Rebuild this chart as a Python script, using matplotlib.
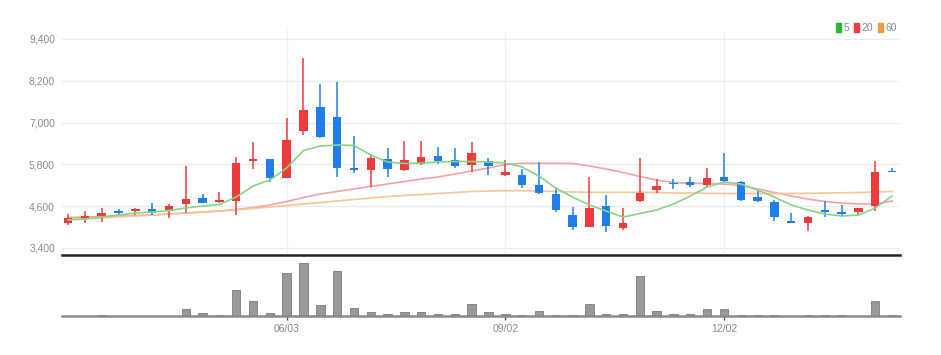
import numpy as np
import pandas as pd
import matplotlib
matplotlib.use("Agg")
import matplotlib.pyplot as plt
from matplotlib.patches import Patch

plt.rcParams['font.family'] = ['Liberation Sans Narrow', 'Liberation Sans', 'DejaVu Sans']

# weekly candles
dates = pd.date_range("2024-03-04", periods=50, freq="7D")
opens = [4109, 4261, 4318, 4462, 4462, 4528, 4462, 4654, 4835, 4720,
         4758, 5897, 5946, 5418, 6759, 7456, 7169, 5688, 5639, 5946,
         5639, 5811, 6050, 5926, 5783, 5906, 5496, 5496, 5209, 4950,
         4347, 4012, 4605, 3965, 4749, 5065, 5276, 5303, 5209, 5447,
         5303, 4873, 4729, 4175, 4109, 4491, 4443, 4443, 4605, 5620]
highs = [4376, 4471, 4557, 4511, 4557, 4683, 4663, 5754, 4950, 4999,
         6021, 6451, 5960, 7123, 8846, 8108, 8174, 6615, 6098, 6262,
         6480, 6480, 6291, 6262, 6434, 5975, 5926, 5659, 5877, 5160,
         4568, 5447, 4921, 4557, 5975, 5372, 5372, 5429, 5688, 6118,
         5320, 5036, 4778, 4396, 4318, 4749, 4634, 4539, 5906, 5688]
lows = [4060, 4126, 4138, 4347, 4356, 4339, 4252, 4413, 4683, 4683,
        4347, 5668, 5303, 5401, 6644, 6549, 5447, 5544, 5160, 5447,
        5620, 5783, 5803, 5688, 5590, 5496, 5480, 5114, 4960, 4424,
        3916, 4000, 3868, 3916, 4730, 4987, 5094, 5160, 5142, 5303,
        4749, 4730, 4184, 4109, 3887, 4298, 4318, 4327, 4471, 5572]
closes = [4270, 4327, 4396, 4413, 4528, 4404, 4614, 4815, 4692, 4778,
          5849, 5946, 5418, 6500, 7362, 6578, 5688, 5639, 5975, 5668,
          5926, 6021, 5897, 5762, 6118, 5762, 5590, 5209, 4970, 4491,
          3994, 4539, 4031, 4126, 4987, 5180, 5229, 5209, 5401, 5332,
          4778, 4758, 4281, 4127, 4298, 4424, 4367, 4539, 5590, 5572]

# moving averages as drawn
ma5 = [4204, 4232, 4290, 4347, 4404, 4433, 4476, 4548, 4605, 4649,
       4864, 5180, 5352, 5697, 6199, 6328, 6357, 6342, 6070, 5869,
       5826, 5840, 5869, 5883, 5883, 5869, 5840, 5725, 5467, 5122,
       4864, 4634, 4462, 4290, 4390, 4491, 4663, 4893, 5151, 5295,
       5237, 5065, 4864, 4634, 4491, 4376, 4319, 4347, 4548, 4893]
ma20 = [4275, 4290, 4304, 4318, 4333, 4347, 4376, 4404, 4433, 4462,
        4505, 4562, 4634, 4734, 4849, 4950, 5022, 5094, 5165, 5237,
        5309, 5381, 5438, 5524, 5610, 5697, 5797, 5831, 5831, 5831,
        5826, 5754, 5668, 5567, 5452, 5352, 5280, 5257, 5252, 5237,
        5194, 5094, 4993, 4893, 4806, 4734, 4691, 4663, 4663, 4749]
ma60 = [4232, 4247, 4261, 4290, 4318, 4347, 4376, 4404, 4433, 4462,
        4491, 4533, 4576, 4620, 4663, 4706, 4749, 4792, 4835, 4878,
        4907, 4936, 4964, 4993, 5022, 5036, 5045, 5045, 5036, 5022,
        5007, 4999, 4999, 4999, 4999, 4993, 4979, 4979, 4970, 4964,
        4964, 4964, 4964, 4964, 4970, 4979, 4985, 4993, 5007, 5022]

volume = [0, 0, 600, 0, 0, 0, 0, 7400, 2700, 1300,
          26300, 15000, 2700, 43300, 53000, 10700, 44700, 8300, 3700, 1700,
          3700, 4300, 2000, 2300, 12000, 3700, 2000, 1000, 5300, 1000,
          1000, 12000, 2300, 2300, 39700, 5300, 1700, 2000, 7400, 7000,
          1000, 1000, 1000, 0, 1000, 1000, 1000, 0, 15000, 1000]

price_ticks = [3400, 4600, 5800, 7000, 8200, 9400]
label_dates = ["2024-06-03", "2024-09-02", "2024-12-02"]

UP = "#ec3a3d"
DOWN = "#1f7fe6"

fig = plt.figure(figsize=(9.41, 3.55), dpi=100)
ax = fig.add_axes([62/941, 1-255/355, 838/941, 225/355])
axv = fig.add_axes([62/941, 1-316/355, 838/941, 58/355], sharex=ax)

x = np.arange(len(dates))
o = np.array(opens); c = np.array(closes)
h = np.array(highs); l = np.array(lows)
up = c >= o
cols = np.where(up, UP, DOWN)

ax.vlines(x, l, h, colors=cols, lw=1.1, zorder=3)
body = np.maximum(np.abs(c - o), 45)
ax.bar(x, body, bottom=np.minimum(o, c), width=0.5, color=cols, zorder=4)

ax.plot(x, ma5, color="#86d486", lw=1.2, zorder=5)
ax.plot(x, ma20, color="#f3a3a6", lw=1.2, zorder=2)
ax.plot(x, ma60, color="#f7c596", lw=1.2, zorder=2)

tick_idx = [int(np.where(dates == pd.Timestamp(d))[0][0]) for d in label_dates]
tick_lab = [pd.Timestamp(d).strftime("%m/%d") for d in label_dates]

ax.set_ylim(3199, 9658)
ax.set_xlim(-0.36, 49.47)
ax.set_yticks(price_ticks)
ax.set_yticklabels([f"{v:,}" for v in price_ticks])
ax.grid(axis="y", color="#ececec", lw=1)
for t in tick_idx:
    ax.axvline(t, color="#efefef", lw=0.8, zorder=0)
ax.tick_params(axis="y", length=0, pad=5, labelsize=7.5, labelcolor="#8a8a8a")
ax.tick_params(axis="x", length=0, labelbottom=False)
for s in ["top", "right", "left"]:
    ax.spines[s].set_visible(False)
ax.spines["bottom"].set_color("#222222")
ax.spines["bottom"].set_linewidth(1.8)

axv.bar(x, volume, width=0.5, color="#999999", edgecolor="#7a7a7a", lw=0.6)
axv.set_ylim(0, 58000)
axv.set_yticks([])
axv.set_xticks(tick_idx)
axv.set_xticklabels(tick_lab)
axv.tick_params(axis="x", length=3, width=1, color="#555555", pad=3,
                labelsize=7.5, labelcolor="#8a8a8a")
for s in ["top", "right", "left"]:
    axv.spines[s].set_visible(False)
axv.spines["bottom"].set_color("#8a8a8a")
axv.spines["bottom"].set_linewidth(1.8)

handles = [Patch(color="#2fb52f", label="5"),
           Patch(color="#ee3b3b", label="20"),
           Patch(color="#f19a3e", label="60")]
leg = fig.legend(handles=handles, loc="upper right", bbox_to_anchor=(906/941, 1-14/355),
                 ncol=3, frameon=False, handlelength=0.45, handleheight=0.9,
                 handletextpad=0.25, columnspacing=0.45, fontsize=7.5)
for t in leg.get_texts():
    t.set_color("#8a8a8a")

fig.savefig("out.png", dpi=100)
